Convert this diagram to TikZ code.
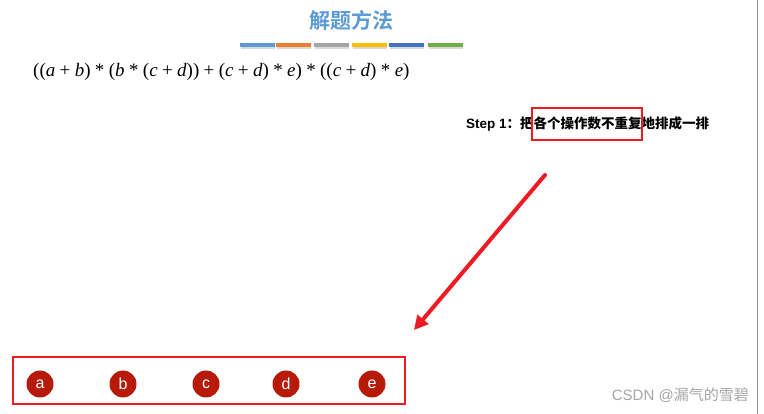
\documentclass[tikz,border=0pt]{standalone}
\usepackage{fontspec}
\setmainfont{Liberation Serif}
\setsansfont{Liberation Sans}
\newfontfamily\cjk{Noto Sans CJK SC}
\newfontfamily\cjkb{Noto Sans CJK SC Bold}
\usetikzlibrary{arrows.meta}
\definecolor{tblue}{HTML}{5B9BD5}
\definecolor{torange}{HTML}{ED7D31}
\definecolor{tgray}{HTML}{A5A5A5}
\definecolor{tyellow}{HTML}{FFC000}
\definecolor{tdblue}{HTML}{4472C4}
\definecolor{tgreen}{HTML}{70AD47}
\definecolor{bred}{HTML}{ED1C24}
\definecolor{cred}{HTML}{B81A0A}
\newcommand{\op}[1]{\hspace{0.23em}#1\hspace{0.23em}}
\begin{document}
\begin{tikzpicture}[x=1pt,y=-1pt,
  bar/.style={minimum width=35pt,minimum height=4pt,inner sep=0pt,anchor=west},
  opcircle/.style={circle,fill=cred,minimum size=27pt,inner sep=0pt,text=white,font=\sffamily\fontsize{16}{16}\selectfont},
  redbox/.style={draw=bred,line width=1.5pt}]
\useasboundingbox (0,0) rectangle (764,414);
\fill[white] (0,0) rectangle (764,414);
\draw[gray!80,line width=1pt] (757,0) -- (757,414);
\node[text=tblue,font=\cjkb\fontsize{21}{21}\selectfont] (title) at (351,20) {解题方法};
\foreach \c/\x [count=\i] in {tblue/240,torange/276,tgray/314,tyellow/352,tdblue/389,tgreen/428}{
  \fill[black!15] (\x+1,47) rectangle (\x+35,49);
  \node[bar,fill=\c] (bar\i) at (\x,45.5) {};
}
\node[anchor=west,font=\fontsize{19}{19}\selectfont,inner sep=0pt] (formula) at (33,72)
 {((\textit{a}\op{+}\textit{b})\op{*}(\textit{b}\op{*}(\textit{c}\op{+}\textit{d}))\op{+}(\textit{c}\op{+}\textit{d})\op{*}\textit{e})\op{*}((\textit{c}\op{+}\textit{d})\op{*}\textit{e})};
\node[anchor=west,inner sep=0pt,font=\fontsize{13.5}{13.5}\selectfont] (step) at (466,124)
 {\sffamily\bfseries Step 1\cjkb：把各个操作数不重复地排成一排};
\draw[redbox] (532,108) rectangle (642,140);
\coordinate (astart) at (545,175);
\coordinate (aend) at (414,330);
\draw[bred,line width=4pt,line cap=round,-{Triangle[length=14pt,width=14pt]}] (astart) -- (aend);
\draw[redbox] (13,357) rectangle (405,404);
\node[opcircle] (a) at (40,384) {a};
\node[opcircle] (b) at (123,384) {b};
\node[opcircle] (c) at (206,384) {c};
\node[opcircle] (d) at (286,384) {d};
\node[opcircle] (e) at (372,384) {e};
\node[anchor=east,text=gray!70,inner sep=0pt,font=\fontsize{15}{15}\selectfont] (wm) at (749,395) {\sffamily CSDN @\cjk 漏气的雪碧};
\end{tikzpicture}
\end{document}
